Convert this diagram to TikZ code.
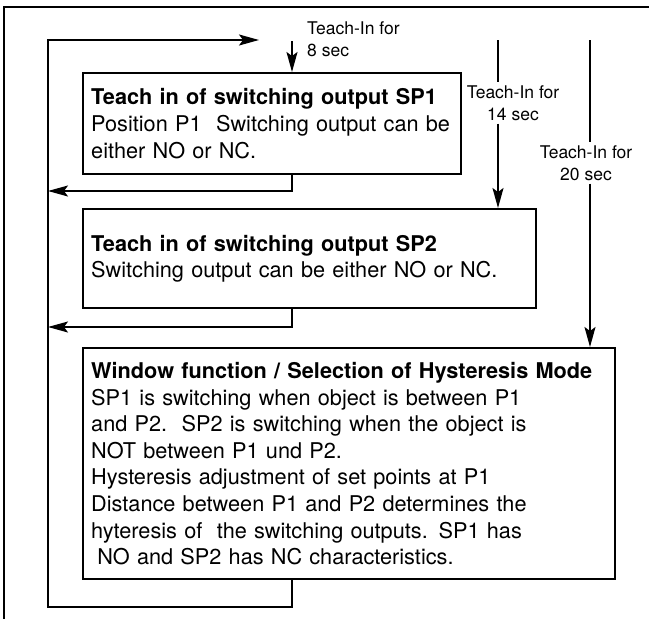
\documentclass[tikz,border=0pt]{standalone}
\usepackage{fontspec}
\setmainfont{TeX Gyre Heros}
\usetikzlibrary{arrows.meta}
\tikzstyle{stage}=[draw, line width=2.4pt, anchor=north west, inner xsep=8pt, inner ysep=0pt, align=left, font=\fontsize{21.7}{26.6}\selectfont]
\tikzstyle{teach}=[inner xsep=1pt, inner ysep=3pt, font=\fontsize{17.5}{22}\selectfont]
\tikzstyle{flow}=[line width=1.8pt]
\tikzstyle{back}=[line width=1.3pt]
\tikzset{>={Stealth[length=20pt,width=11pt,inset=4pt]}}

\begin{document}
\begin{tikzpicture}[x=1pt, y=-1pt]
\useasboundingbox (0,0) rectangle (649,619);
% frame
\draw[line width=2.4pt] (649,7) -- (4,7) -- (4,619);
%
\node[stage, text width=362pt, minimum height=101pt] (sp1) at (82,72) {\textbf{Teach in of switching output SP1}\\ Position P1\ \ Switching output can be\\ either NO or NC.};
\node[stage, text width=437pt, minimum height=99pt] (sp2) at (82,208) {\textbf{Teach in of switching output SP2}\\ Switching output can be either NO or NC.};
\node[stage, text width=516pt, minimum height=231pt] (win) at (82,347) {\textbf{Window function / Selection of Hysteresis Mode}\\ SP1 is switching when object is between P1\\ and P2.\ \ SP2 is switching when the object is\\ NOT between P1 und P2.\\ Hysteresis adjustment of set points at P1\\ Distance between P1 and P2 determines the\\ hyteresis of\ \ the switching outputs. SP1 has\\ \hspace*{0.28em}NO and SP2 has NC characteristics.};
%
\node[teach, align=left, anchor=west] (t8) at (306,39) {Teach-In for\\ 8 sec};
\node[teach, align=center] (t14) at (513,103) {Teach-In for\\ 14 sec};
\node[teach, align=center] (t20) at (586,163) {Teach-In for\\ 20 sec};
%
\coordinate (ret) at (292,0);
\coordinate (a8) at (292,41);
\coordinate (a14) at (498,40);
\coordinate (a20) at (590,40);
\coordinate (r1) at (48,191);
\coordinate (r2) at (48,327);
\coordinate (lbot) at (48,607);
\coordinate (ltop) at (48,40);
\coordinate (ltip) at (259,40);
%
\draw[flow, ->] (a8) -- (a8 |- sp1.north);
\draw[flow] (a14) -- (a14 |- t14.north);
\draw[flow, ->] (a14 |- t14.south) -- (a14 |- sp2.north);
\draw[flow] (a20) -- (a20 |- t20.north);
\draw[flow, ->] (a20 |- t20.south) -- (a20 |- win.north);
%
\draw[back, ->] (ret |- sp1.south) -- (ret |- r1) -- (r1);
\draw[back, ->] (ret |- sp2.south) -- (ret |- r2) -- (r2);
\draw[flow, ->] (ret |- win.south) -- (ret |- lbot) -- (lbot) -- (ltop) -- (ltip);
\end{tikzpicture}
\end{document}
